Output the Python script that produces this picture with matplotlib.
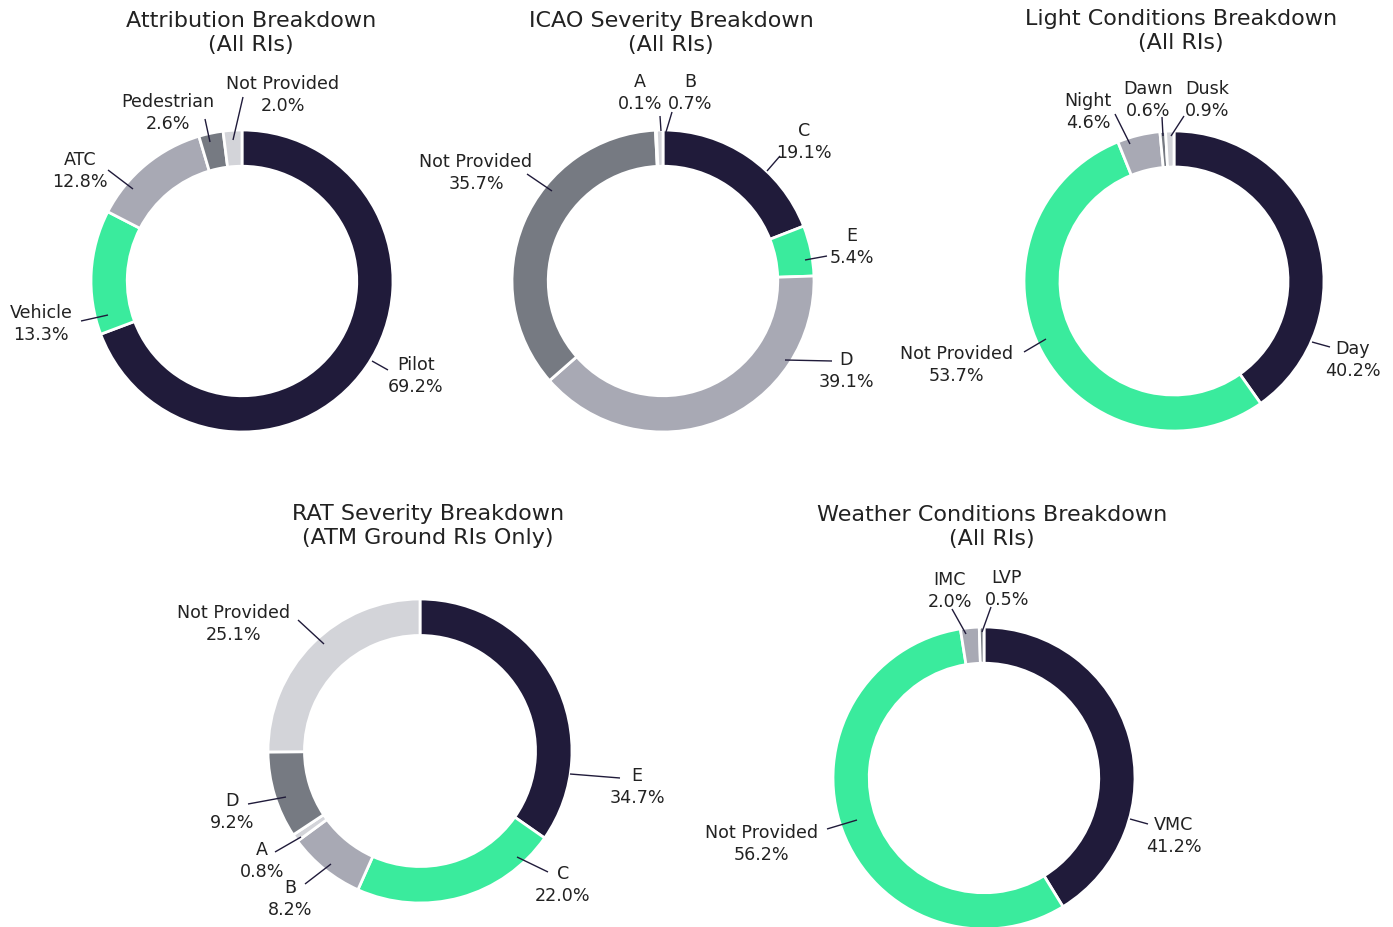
import matplotlib
matplotlib.use("Agg")
import matplotlib.pyplot as plt

# ---- data -------------------------------------------------------------
attr_labels = ["Pilot", "Vehicle", "ATC", "Pedestrian", "Not Provided"]
attr_values = [69.2, 13.3, 12.8, 2.6, 2.0]

icao_labels = ["C", "E", "D", "Not Provided", "A", "B"]
icao_values = [19.1, 5.4, 39.1, 35.7, 0.1, 0.7]

light_labels = ["Day", "Not Provided", "Night", "Dawn", "Dusk"]
light_values = [40.2, 53.7, 4.6, 0.6, 0.9]

rat_labels = ["E", "C", "B", "A", "D", "Not Provided"]
rat_values = [34.7, 22.0, 8.2, 0.8, 9.2, 25.1]

wx_labels = ["VMC", "Not Provided", "IMC", "LVP"]
wx_values = [41.2, 56.2, 2.0, 0.5]

# ---- style ------------------------------------------------------------
NAVY = "#201b3a"
GREEN = "#3aeb9d"
LGRAY = "#a8a9b4"
DGRAY = "#767a82"
VLIGHT = "#d3d4d9"
TEXT = "#222222"

W, H = 1393, 928
plt.rcParams["font.family"] = ["DejaVu Sans"]

fig = plt.figure(figsize=(W / 100, H / 100), dpi=100)
ax = fig.add_axes([0, 0, 1, 1])


def flip(y):
    return H - y


# layout: centre (px, from top), radius, title position,
# and per-label offsets (text, leader start, leader end) from the centre
charts = [
    dict(title="Attribution Breakdown\n(All RIs)", tpos=(251, 33),
         center=(242, 282), r=151,
         labels=attr_labels, values=attr_values,
         colors=[NAVY, GREEN, LGRAY, DGRAY, VLIGHT],
         offs=[((174, 94), (130, 80), (146, 89)),
               ((-201, 42), (-134, 34), (-161, 40)),
               ((-162, -111), (-109, -92), (-134, -111)),
               ((-74, -169), (-32, -139), (-37, -162)),
               ((41, -187), (-9, -141), (1, -184))]),
    dict(title="ICAO Severity Breakdown\n(All RIs)", tpos=(671, 33),
         center=(663, 282), r=151,
         labels=icao_labels, values=icao_values,
         colors=[NAVY, GREEN, LGRAY, DGRAY, "#e4e5e9", VLIGHT],
         offs=[((141, -140), (104, -110), (117, -125)),
               ((189, -35), (142, -21), (164, -25)),
               ((183, 89), (122, 79), (169, 80)),
               ((-187, -109), (-111, -90), (-136, -107)),
               ((-23, -189), (-2, -150), (-3, -165)),
               ((27, -189), (3, -149), (9, -169))]),
    dict(title="Light Conditions Breakdown\n(All RIs)", tpos=(1181, 31),
         center=(1174, 282), r=150,
         labels=light_labels, values=light_values,
         colors=[NAVY, GREEN, LGRAY, DGRAY, VLIGHT],
         offs=[((179, 78), (138, 61), (156, 66)),
               ((-217, 83), (-128, 58), (-150, 71)),
               ((-86, -170), (-44, -137), (-59, -167)),
               ((-26, -182), (-11, -145), (-12, -164)),
               ((33, -182), (-3, -145), (10, -165))]),
    dict(title="RAT Severity Breakdown\n(ATM Ground RIs Only)", tpos=(428, 526),
         center=(420, 752), r=152,
         labels=rat_labels, values=rat_values,
         colors=[NAVY, GREEN, LGRAY, VLIGHT, DGRAY, VLIGHT],
         offs=[((217, 35), (150, 23), (200, 27)),
               ((143, 133), (97, 106), (128, 121)),
               ((-130, 147), (-89, 113), (-115, 133)),
               ((-158, 109), (-119, 86), (-145, 101)),
               ((-188, 60), (-134, 46), (-172, 53)),
               ((-186, -128), (-96, -107), (-122, -131))]),
    dict(title="Weather Conditions Breakdown\n(All RIs)", tpos=(992, 527),
         center=(984, 779), r=151,
         labels=wx_labels, values=wx_values,
         colors=[NAVY, GREEN, LGRAY, DGRAY],
         offs=[((190, 57), (146, 41), (164, 46)),
               ((-222, 65), (-127, 42), (-157, 51)),
               ((-34, -188), (-18, -144), (-32, -169)),
               ((23, -190), (-2, -146), (7, -171))]),
]

for ch in charts:
    cx, cy = ch["center"]
    r = ch["r"]
    ax.pie(ch["values"], colors=ch["colors"], startangle=90,
           counterclock=False, radius=r, center=(cx, flip(cy)),
           wedgeprops=dict(width=r * 0.24, edgecolor="white", linewidth=2))
    for name, val, (t, s, e) in zip(ch["labels"], ch["values"], ch["offs"]):
        ax.plot([cx + s[0], cx + e[0]], [flip(cy + s[1]), flip(cy + e[1])],
                color=NAVY, lw=1.0, solid_capstyle="butt")
        ax.text(cx + t[0], flip(cy + t[1]), f"{name}\n{val:.1f}%",
                ha="center", va="center", fontsize=12.6, color=TEXT,
                linespacing=1.25)
    tx, ty = ch["tpos"]
    ax.text(tx, flip(ty), ch["title"], ha="center", va="center",
            fontsize=16, color=TEXT, linespacing=1.3)

ax.set_xlim(0, W)
ax.set_ylim(0, H)
ax.set_aspect("equal")
ax.axis("off")

fig.savefig("out.png", dpi=100, facecolor="white")
